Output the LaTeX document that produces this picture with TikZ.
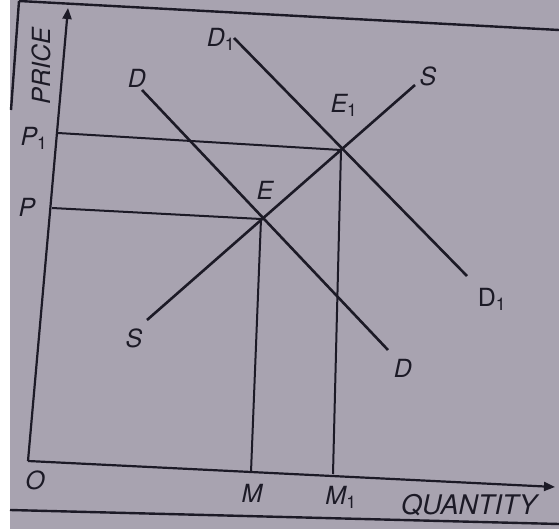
\documentclass[tikz,border=0pt]{standalone}
\usepackage{fontspec}
\setmainfont{TeX Gyre Heros}
\usetikzlibrary{arrows.meta}
\definecolor{paper}{RGB}{168,163,176}
\definecolor{ink}{RGB}{28,26,38}
\tikzset{
  curve/.style={draw=ink, line width=2.6pt},
  axis/.style={draw=ink, line width=2.2pt},
  guide/.style={draw=ink, line width=2pt},
  frame/.style={draw=ink, line width=2.4pt},
  lbl/.style={text=ink, font=\fontsize{25}{28}\selectfont\itshape, inner sep=0pt},
  lblup/.style={text=ink, font=\fontsize{25}{28}\selectfont, inner sep=0pt},
  lblq/.style={text=ink, font=\fontsize{27}{30}\selectfont\itshape, inner sep=0pt},
}
\begin{document}
\begin{tikzpicture}[x=1pt,y=-1pt]
\useasboundingbox (0,0) rectangle (559,529);
\fill[white] (0,0) rectangle (559,529);
\fill[paper] (10,0) rectangle (559,529);
% page frame
\coordinate (ftl) at (19,1);
\coordinate (ftr) at (559,30);
\coordinate (fbl) at (11,110);
\coordinate (bl) at (10,510);
\coordinate (br) at (559,524);
\draw[frame] (ftl) -- (ftr);
\draw[frame] (ftl) -- (fbl);
\draw[frame] (bl) -- (br);
% axes
\coordinate (O) at (28,461);
\coordinate (ytop) at (68,8);
\coordinate (xend) at (555,487);
\draw[axis,-{Triangle[length=11pt,width=9pt]}] (O) -- (ytop);
\draw[axis,-{Triangle[length=11pt,width=9pt]}] (O) -- (xend);
% points
\coordinate (E) at (261,219);
\coordinate (E1) at (341,150);
\coordinate (Pax) at (52,208);
\coordinate (P1ax) at (58,133);
\coordinate (Max) at (251,472);
\coordinate (M1ax) at (333,474);
% guides
\draw[guide] (Pax) -- (E);
\draw[guide] (P1ax) -- (E1);
\draw[guide] (E) -- (Max);
\draw[guide] (E1) -- (M1ax);
% curves
\coordinate (Dtop) at (142,90);
\coordinate (Dbot) at (388,350);
\coordinate (D1top) at (234,38);
\coordinate (D1bot) at (467,276);
\coordinate (Sbot) at (147,320);
\coordinate (Stop) at (415,85);
\draw[curve] (Dtop) -- (Dbot);
\draw[curve] (D1top) -- (D1bot);
\draw[curve] (Sbot) -- (Stop);
% labels
\node[lbl,rotate=90] (price) at (41,66) {PRICE};
\node[lbl] (lP1) at (34,138) {P$_{\mathrm{1}}$};
\node[lbl] (lP) at (27,207) {P};
\node[lbl] (lD) at (137,78) {D};
\node[lbl] (lD1) at (221,39) {D$_{\mathrm{1}}$};
\node[lbl] (lE) at (265,190) {E};
\node[lbl] (lE1) at (344,105) {E$_{\mathrm{1}}$};
\node[lbl] (lS) at (428,76) {S};
\node[lbl] (lSb) at (134,338) {S};
\node[lbl] (lDb) at (403,368) {D};
\node[lblup] (lD1b) at (492,299) {D$_{\mathrm{1}}$};
\node[lbl] (lO) at (35,480) {O};
\node[lbl] (lM) at (252,493) {M};
\node[lbl] (lM1) at (341,497) {M$_{\mathrm{1}}$};
\node[lblq] (lQ) at (469,505) {QUANTITY};
\end{tikzpicture}
\end{document}
